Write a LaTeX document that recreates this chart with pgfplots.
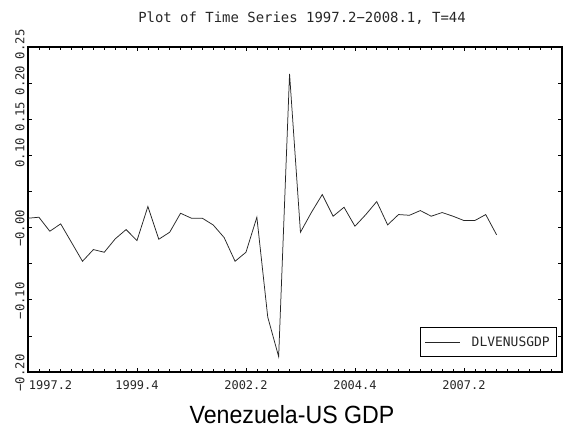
\documentclass[border=0pt]{standalone}
\usepackage{graphicx}
\usepackage{pgfplots}
\usepackage{pgfplotstable}
\pgfplotsset{compat=1.18}
\usepackage{fontspec}
\setmainfont{Liberation Sans}
\newfontfamily\monof{DejaVu Sans Mono}

\pgfplotstableread{
i v
0 0.0129
1 0.0143
2 -0.0051
3 0.0051
4 -0.0208
5 -0.0467
6 -0.0305
7 -0.0342
8 -0.0157
9 -0.0028
10 -0.0180
11 0.0291
12 -0.0162
13 -0.0065
14 0.0198
15 0.0129
16 0.0129
17 0.0035
18 -0.0139
19 -0.0467
20 -0.0342
21 0.0143
22 -0.1240
23 -0.1787
24 0.2129
25 -0.0065
26 0.0208
27 0.0457
28 0.0157
29 0.0281
30 0.0018
31 0.0180
32 0.0360
33 0.0037
34 0.0180
35 0.0170
36 0.0235
37 0.0157
38 0.0208
39 0.0157
40 0.0097
41 0.0097
42 0.0180
43 -0.0101
}\gdp

\begin{document}
\begin{tikzpicture}
\useasboundingbox (-28bp,-60bp) rectangle (543bp,372bp);
\begin{axis}[
  at={(0,0)}, anchor=south west,
  scale only axis, width=534bp, height=325bp,
  xmin=0, xmax=49, ymin=-0.20, ymax=0.25,
  xtick={0,10,20,30,40},
  xticklabels={\makebox[0pt][l]{\hspace{1bp}1997.2},1999.4,2002.2,2004.4,2007.2},
  minor xtick={0,1,...,49},
  ytick={-0.2,-0.15,-0.1,-0.05,0,0.05,0.1,0.15,0.2,0.25},
  yticklabels={−0.20,,−0.10,,−0.00,,\phantom{−}0.10,\phantom{−}0.15,\phantom{−}0.20,\phantom{−}0.25},
  tick align=inside,
  major tick length=4bp, minor tick length=3bp,
  every tick/.style={black, line width=0.6bp},
  axis line style={line width=1.1bp},
  tick label style={font=\monof\fontsize{12}{14}\selectfont, text=black!85},
  yticklabel style={rotate=90, anchor=south, xshift=-1bp, font=\monof\fontsize{12.3}{14}\selectfont},
  xticklabel style={yshift=-5bp},
  every axis title/.style={at={(0.5,1)}, anchor=center, yshift=29bp, xshift=7bp,
    font=\monof\fontsize{14}{16}\selectfont, text=black!85},
  title={Plot of Time Series 1997.2−2008.1, T=44},
  every axis x label/.style={at={(0.5,0)}, anchor=center, yshift=-43bp, xshift=-3bp,
    font=\fontsize{25}{28}\selectfont},
  xlabel={\scalebox{0.93}[1]{Venezuela-US GDP}},
  legend style={at={(1,0)}, anchor=south east, xshift=-5bp, yshift=15bp,
    draw=black, line width=0.6bp, inner xsep=5bp, inner ysep=7bp,
    font=\monof\fontsize{13}{15}\selectfont, text=black!85},
  legend cell align=left,
  legend image code/.code={\draw[#1] (0bp,0bp) -- (35bp,0bp); \path (44bp,0bp);},
]
\addplot[black!85, line width=0.75bp, mark=none] table[x=i, y=v] {\gdp};
\addlegendentry{DLVENUSGDP}
\end{axis}
\end{tikzpicture}
\end{document}
